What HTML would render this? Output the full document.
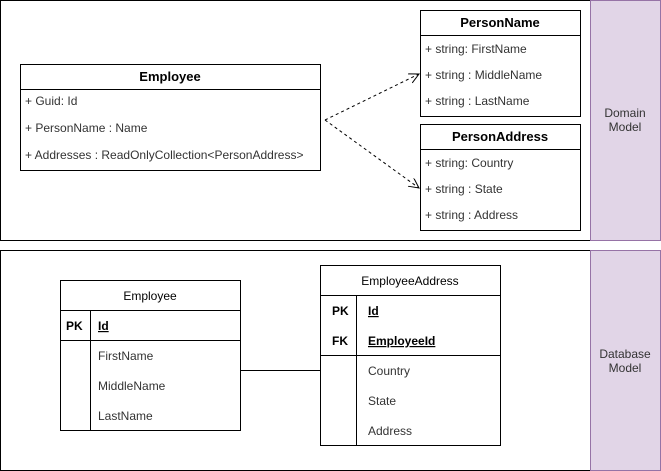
<!DOCTYPE html>
<html><head><meta charset="utf-8"><style>
html,body{margin:0;padding:0;background:#fff;}
svg{display:block;}
text{font-family:"Liberation Sans",sans-serif;font-size:12px;fill:#333;}
.b{font-weight:bold;font-size:13px;fill:#000;}
.h{font-size:12px;fill:#000;}
</style></head><body>
<svg width="661" height="471" viewBox="0 0 661 471">
<defs>
<marker id="a" markerWidth="12" markerHeight="12" refX="10" refY="5" orient="auto" markerUnits="userSpaceOnUse">
<path d="M0,0 L10,5 L0,10" fill="none" stroke="#000" stroke-width="1"/>
</marker>
</defs>
<g fill="none" stroke="#000" stroke-width="1">
<rect x="0.5" y="0.5" width="590" height="240"/>
<rect x="0.5" y="250.5" width="590" height="220"/>
</g>
<rect x="590.5" y="0.5" width="70" height="240" fill="#e1d5e7" stroke="#9673a6"/>
<rect x="590.5" y="250.5" width="70" height="220" fill="#e1d5e7" stroke="#9673a6"/>
<text x="625" y="117" text-anchor="middle">Domain</text>
<text x="625" y="131" text-anchor="middle">Model</text>
<text x="625" y="358" text-anchor="middle">Database</text>
<text x="625" y="372" text-anchor="middle">Model</text>

<g fill="#fff" stroke="#000">
<rect x="20.5" y="64.5" width="300" height="106"/>
<line x1="20" y1="89.5" x2="321" y2="89.5"/>
<rect x="420.5" y="10.5" width="160" height="106"/>
<line x1="420" y1="35.5" x2="581" y2="35.5"/>
<rect x="420.5" y="124.5" width="160" height="106"/>
<line x1="420" y1="149.5" x2="581" y2="149.5"/>
</g>
<text class="b" x="170" y="81" text-anchor="middle">Employee</text>
<text x="25" y="105">+ Guid: Id</text>
<text x="25" y="132">+ PersonName : Name</text>
<text x="25" y="159">+ Addresses : ReadOnlyCollection&lt;PersonAddress&gt;</text>
<text class="b" x="500" y="27" text-anchor="middle">PersonName</text>
<text x="425" y="53">+ string: FirstName</text>
<text x="425" y="79">+ string : MiddleName</text>
<text x="425" y="105">+ string : LastName</text>
<text class="b" x="500" y="141" text-anchor="middle">PersonAddress</text>
<text x="425" y="167">+ string: Country</text>
<text x="425" y="193">+ string : State</text>
<text x="425" y="219">+ string : Address</text>

<g fill="none" stroke="#000" stroke-dasharray="3,3">
<path d="M325,120 L419,74" marker-end="url(#a)"/>
<path d="M325,120 L419,188" marker-end="url(#a)"/>
</g>

<g fill="#fff" stroke="#000">
<rect x="60.5" y="280.5" width="180" height="150"/>
<line x1="60" y1="310.5" x2="241" y2="310.5"/>
<line x1="60" y1="340.5" x2="241" y2="340.5"/>
<line x1="90.5" y1="310" x2="90.5" y2="431"/>
<rect x="320.5" y="265.5" width="180" height="180"/>
<line x1="320" y1="295.5" x2="501" y2="295.5"/>
<line x1="320" y1="355.5" x2="501" y2="355.5"/>
<line x1="356.5" y1="295" x2="356.5" y2="446"/>
<line x1="240" y1="370.5" x2="320" y2="370.5"/>
</g>
<text class="h" x="150" y="300" text-anchor="middle">Employee</text>
<text x="66" y="330" style="font-weight:bold;fill:#000">PK</text>
<text x="98" y="330" style="font-weight:bold;fill:#000;text-decoration:underline">Id</text>
<text x="98" y="360">FirstName</text>
<text x="98" y="390">MiddleName</text>
<text x="98" y="420">LastName</text>
<text class="h" x="410" y="285" text-anchor="middle">EmployeeAddress</text>
<text x="332" y="315" style="font-weight:bold;fill:#000">PK</text>
<text x="368" y="315" style="font-weight:bold;fill:#000;text-decoration:underline">Id</text>
<text x="332" y="345" style="font-weight:bold;fill:#000">FK</text>
<text x="368" y="345" style="font-weight:bold;fill:#000;text-decoration:underline">EmployeeId</text>
<text x="368" y="375">Country</text>
<text x="368" y="405">State</text>
<text x="368" y="435">Address</text>
</svg>
</body></html>
